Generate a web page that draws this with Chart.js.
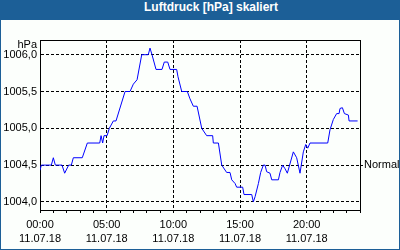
<!DOCTYPE html>
<html>
<head>
<meta charset="utf-8">
<script src="https://cdn.jsdelivr.net/npm/chart.js@4/dist/chart.umd.min.js"></script>
<style>
  body { margin: 0; }
  #frame { position: relative; width: 400px; height: 250px; background: #1c5f97; overflow: hidden; }
  #title { height: 20px; line-height: 20px; color: #fff; font: bold 12px "Liberation Sans", Arial, sans-serif; text-align: center; padding-left: 22px; }
  #chart { position: absolute; left: 1px; top: 20px; background: #fcfffc; }
</style>
</head>
<body>
<div id="frame">
  <div id="title">Luftdruck [hPa] skaliert</div>
  <canvas id="chart" width="398" height="229"></canvas>
</div>
<script>
// Messzeitpunkte in Stunden ab 00:00 (11.07.18)
const times = [0.0, 0.1, 0.85, 1.0, 1.15, 1.65, 1.85, 2.15, 2.35, 2.5, 3.17, 3.55, 4.48, 4.58, 4.7, 4.8,
  5.03, 5.2, 5.5, 5.7, 6.38, 6.75, 7.0, 7.28, 7.63, 8.12, 8.25, 8.4, 8.7, 9.15, 9.32, 9.58, 9.75,
  10.25, 10.35, 10.63, 11.05, 11.25, 11.5, 11.78, 12.13, 12.5, 12.95, 13.0, 13.38, 13.63, 14.0,
  14.25, 14.38, 14.63, 14.75, 15.2, 15.3, 15.88, 16.0, 16.13, 16.38, 16.55, 16.75, 16.88, 17.0,
  17.25, 17.38, 17.88, 18.0, 18.2, 18.38, 18.55, 19.0, 19.25, 19.5, 19.75, 19.93, 20.08, 20.25,
  21.58, 21.75, 22.0, 22.25, 22.43, 22.5, 22.68, 22.83, 23.13, 23.18, 23.82];

// Luftdruck in hPa
const pressure = [1004.43, 1004.5, 1004.5, 1004.6, 1004.5, 1004.5, 1004.39, 1004.5, 1004.5, 1004.6, 1004.6, 1004.8, 1004.8, 1004.9, 1004.8, 1004.9,
  1004.9, 1005.0, 1005.1, 1005.1, 1005.5, 1005.5, 1005.6, 1005.66, 1006.0, 1006.0, 1006.09, 1006.0, 1005.8, 1005.8, 1005.9, 1005.9, 1005.8,
  1005.8, 1005.7, 1005.5, 1005.5, 1005.4, 1005.3, 1005.3, 1005.0, 1004.9, 1004.9, 1004.8, 1004.8, 1004.5, 1004.4,
  1004.4, 1004.3, 1004.25, 1004.2, 1004.2, 1004.1, 1004.1, 1004.0, 1004.07, 1004.25, 1004.4, 1004.5, 1004.5, 1004.41,
  1004.39, 1004.3, 1004.3, 1004.4, 1004.5, 1004.45, 1004.39, 1004.68, 1004.6, 1004.39, 1004.68, 1004.78, 1004.73, 1004.8,
  1004.8, 1004.98, 1005.12, 1005.2, 1005.2, 1005.27, 1005.28, 1005.2, 1005.18, 1005.1, 1005.1];

// Achsen
const yTicks = [1004.0, 1004.5, 1005.0, 1005.5, 1006.0];
const xLabelEvery = 5;   // Beschriftung alle 5 Stunden
const dateLabel = '11.07.18';
const unitLabel = 'hPa';
const unitPos = 1006.13;
const normalValue = 1004.5;
const normalLabel = 'Normal';

const yMin = 1003.89, yMax = 1006.2;
const font = { family: '"Liberation Sans", Arial, sans-serif', size: 11, lineHeight: 1.3 };

new Chart(document.getElementById('chart'), {
  type: 'line',
  data: {
    datasets: [{
      data: times.map((t, i) => ({ x: t, y: pressure[i] })),
      borderColor: '#0000ff',
      borderWidth: 1,
      pointRadius: 0,
      tension: 0,
      fill: false
    }]
  },
  options: {
    responsive: false,
    animation: false,
    devicePixelRatio: 1,
    layout: { padding: 0 },
    plugins: { legend: { display: false }, tooltip: { enabled: false } },
    scales: {
      x: {
        type: 'linear', position: 'bottom', min: 0, max: 24,
        afterFit: s => { s.height = 39; },
        ticks: {
          stepSize: 1, autoSkip: false, maxRotation: 0, padding: 5, color: '#000', font: font,
          callback: v => v % xLabelEvery === 0 && v < 24 ? [String(v).padStart(2, '0') + ':00', dateLabel] : ''
        },
        grid: {
          color: c => (c.tick && c.tick.value % xLabelEvery === 0) ? '#000' : 'rgba(0,0,0,0)',
          tickColor: '#000', tickLength: 3, lineWidth: 1
        },
        border: { color: '#000', dash: [3, 2] }
      },
      xTop: {
        type: 'linear', position: 'top', min: 0, max: 24,
        afterFit: s => { s.height = 20; },
        ticks: { display: false },
        grid: { display: false, drawTicks: false },
        border: { display: true, color: '#000' }
      },
      y: {
        type: 'linear', position: 'left', min: yMin, max: yMax,
        afterFit: s => { s.width = 39; },
        afterBuildTicks: s => { s.ticks = yTicks.map(v => ({ value: v })).concat([{ value: unitPos }]); },
        ticks: {
          padding: 3, color: '#000', font: font,
          callback: v => v === unitPos ? unitLabel : v.toFixed(1).replace('.', ',')
        },
        grid: {
          drawTicks: false,
          color: c => (c.tick && c.tick.value === unitPos) ? 'rgba(0,0,0,0)' : '#000'
        },
        border: { color: '#000', dash: [3, 2] }
      },
      yRight: {
        type: 'linear', position: 'right', min: yMin, max: yMax,
        afterFit: s => { s.width = 39; },
        afterBuildTicks: s => { s.ticks = [{ value: normalValue }]; },
        ticks: { padding: 1, color: '#000', font: font, callback: () => normalLabel },
        grid: { drawOnChartArea: false, tickLength: 3, tickColor: '#000' },
        border: { color: '#000' }
      }
    }
  }
});
</script>
</body>
</html>
